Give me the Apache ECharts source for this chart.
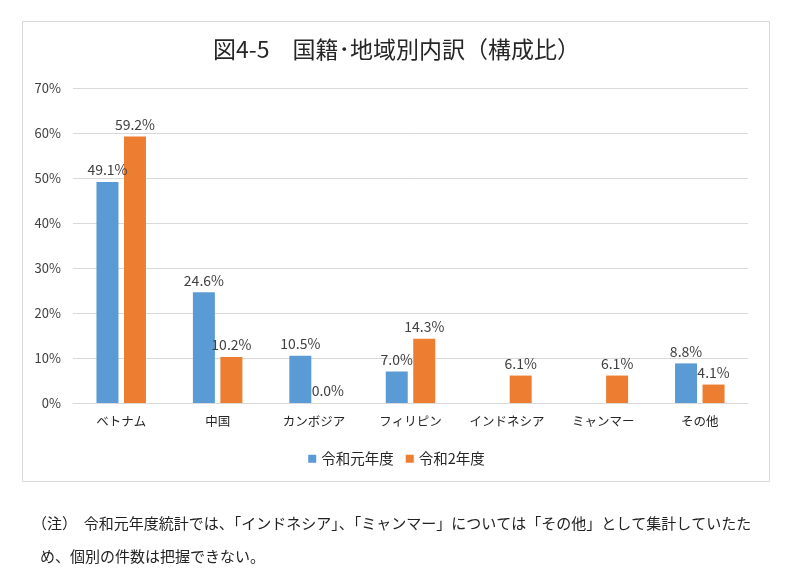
<!DOCTYPE html>
<html>
<head>
<meta charset="utf-8">
<script src="https://cdn.jsdelivr.net/npm/echarts@6/dist/echarts.min.js"></script>
<style>
  html, body { margin: 0; padding: 0; background: #fff; }
  #chart { width: 793px; height: 577px; }
</style>
</head>
<body>
<div id="chart"></div>
<script>
// 国籍・地域別の構成比 (%)
const categories = ['ベトナム', '中国', 'カンボジア', 'フィリピン', 'インドネシア', 'ミャンマー', 'その他'];
const seriesNames = ['令和元年度', '令和2年度'];
const reiwa1 = [49.1, 24.6, 10.5, 7.0, null, null, 8.8];
const reiwa2 = [59.2, 10.2, 0.0, 14.3, 6.1, 6.1, 4.1];
const yTicks = [0, 10, 20, 30, 40, 50, 60, 70];

const font = '"Noto Sans CJK JP", sans-serif';
const chart = echarts.init(document.getElementById('chart'), null, { renderer: 'canvas' });

const label = {
  show: true,
  position: 'top',
  distance: 5,
  fontFamily: font,
  fontSize: 14,
  color: '#404040',
  formatter: p => p.value == null ? '' : p.value.toFixed(1) + '%'
};

chart.setOption({
  animation: false,
  textStyle: { fontFamily: font },
  title: {
    text: '図4-5　国籍･地域別内訳（構成比）',
    left: 'center',
    top: 33,
    textStyle: { fontFamily: font, fontSize: 23, fontWeight: 'normal', color: '#262626' }
  },
  legend: {
    data: seriesNames,
    bottom: 106,
    left: 'center',
    itemWidth: 8,
    itemHeight: 8,
    itemGap: 12,
    icon: 'rect',
    textStyle: { fontFamily: font, fontSize: 14.5, color: '#262626' }
  },
  grid: { left: 73, right: 45, top: 88, bottom: 174 },
  xAxis: {
    type: 'category',
    data: categories,
    axisLine: { lineStyle: { color: '#d9d9d9' } },
    axisTick: { show: false },
    axisLabel: { interval: 0, fontFamily: font, fontSize: 12.5, color: '#262626', margin: 12 }
  },
  yAxis: {
    type: 'value',
    min: yTicks[0],
    max: yTicks[yTicks.length - 1],
    interval: 10,
    axisLine: { show: false },
    axisTick: { show: false },
    splitLine: { lineStyle: { color: '#d9d9d9' } },
    axisLabel: {
      fontFamily: font, fontSize: 13, color: '#404040', margin: 12,
      align: 'right',
      formatter: v => v + '%'
    }
  },
  series: [
    {
      name: seriesNames[0], type: 'bar', data: reiwa1,
      barWidth: 22, barGap: '25%',
      itemStyle: { color: '#5b9bd5' }, label
    },
    {
      name: seriesNames[1], type: 'bar', data: reiwa2,
      barWidth: 22,
      itemStyle: { color: '#ed7d31' }, label
    }
  ],
  graphic: [
    {
      type: 'rect',
      shape: { x: 22.5, y: 21.5, width: 747, height: 460 },
      style: { fill: 'none', stroke: '#d9d9d9', lineWidth: 1 },
      z: -1
    },
    {
      type: 'text', left: 32, top: 516,
      style: {
        text: '（注）  令和元年度統計では、「インドネシア」、「ミャンマー」については「その他」として集計していたた',
        font: '15px ' + font, fill: '#222'
      }
    },
    {
      type: 'text', left: 40, top: 549,
      style: {
        text: 'め、個別の件数は把握できない。',
        font: '15px ' + font, fill: '#222'
      }
    }
  ]
});
</script>
</body>
</html>
